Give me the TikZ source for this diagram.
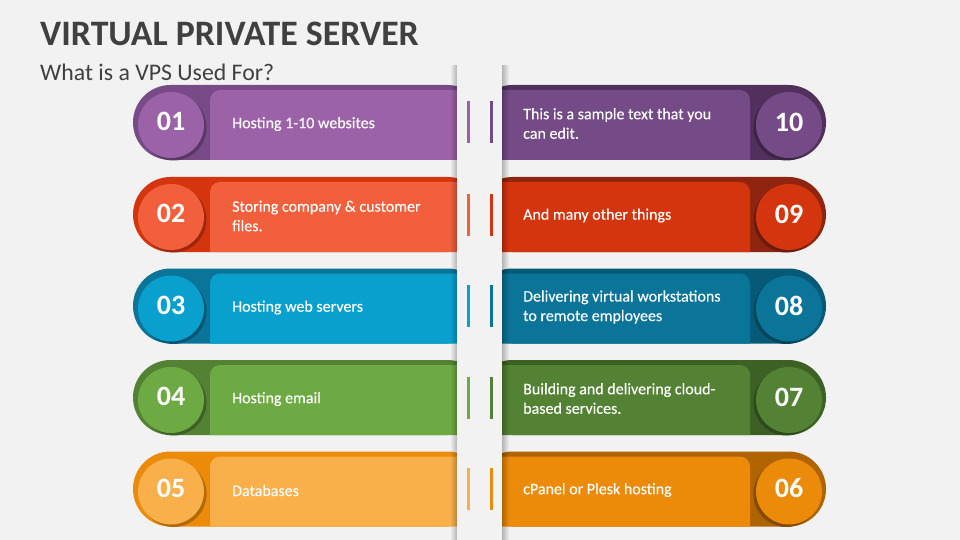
\documentclass[tikz,border=0pt]{standalone}
\usepackage{fontspec}
\setmainfont{Carlito}
\newfontfamily\itemfont[FakeBold=0.25]{Carlito}
\usetikzlibrary{fadings}
\definecolor{bg}{HTML}{F2F2F2}
\definecolor{titlegray}{HTML}{404040}
\definecolor{aLi}{HTML}{9B62A7}\definecolor{aLo}{HTML}{784A88}\definecolor{aRi}{HTML}{744B87}\definecolor{aRo}{HTML}{51305C}
\definecolor{bLi}{HTML}{F15F3D}\definecolor{bLo}{HTML}{D4340E}\definecolor{bRi}{HTML}{D4340E}\definecolor{bRo}{HTML}{8F2510}
\definecolor{cLi}{HTML}{0AA0CE}\definecolor{cLo}{HTML}{0A7499}\definecolor{cRi}{HTML}{0A7499}\definecolor{cRo}{HTML}{065A78}
\definecolor{dLi}{HTML}{6DAA43}\definecolor{dLo}{HTML}{548235}\definecolor{dRi}{HTML}{548235}\definecolor{dRo}{HTML}{3D6125}
\definecolor{eLi}{HTML}{F9AF4A}\definecolor{eLo}{HTML}{EC8A0A}\definecolor{eRi}{HTML}{EC8A0A}\definecolor{eRo}{HTML}{B06400}
\newcommand\vpsrow[6]{%
  % #1 top y, #2 color prefix, #3 left number, #4 left text, #5 right number, #6 right text
  \fill[#2Lo, rounded corners=37.5pt] (133,#1) rectangle (485,#1+75);
  \fill[#2Li] (485,#1+75) -- (210,#1+75) [rounded corners=10pt] -- (210,#1+5) [sharp corners] -- (485,#1+5) -- cycle;
  \fill[#2Lo!75!black] (173.5,#1+42.5) circle (33);
  \node[numcirc, fill=#2Li] (#2lc) at (171,#1+40) {};
  \node[numtext] (#2ln) at (171,#1+36.5) {#3};
  \node[itemtext] (#2lt) at (232,#1+39) {#4};
  \fill[#2Ro, rounded corners=37.5pt] (475,#1) rectangle (826,#1+75);
  \fill[#2Ri] (475,#1+5) [rounded corners=10pt] -- (750,#1+5) [sharp corners] -- (750,#1+75) -- (475,#1+75) -- cycle;
  \fill[#2Ro!75!black] (786.5,#1+42.5) circle (33);
  \node[numcirc, fill=#2Ri] (#2rc) at (789,#1+40) {};
  \node[numtext] (#2rn) at (789,#1+37) {#5};
  \node[itemtext] (#2rt) at (523,#1+38.5) {#6};
}
\newcommand\vpsmarks[2]{%
  \draw[#2Li, line width=3pt] (468,#1+16.5) -- (468,#1+58.5);
  \draw[#2Ri, line width=3pt] (491,#1+16.5) -- (491,#1+58.5);
}
\begin{document}
\begin{tikzpicture}[x=1pt,y=-1pt,
  numcirc/.style={circle, inner sep=0pt, minimum size=66pt},
  numtext/.style={inner sep=0pt, text=white, font=\fontsize{28}{28}\selectfont\bfseries},
  itemtext/.style={anchor=west, inner sep=0pt, text=white, align=left, font=\fontsize{16}{19.5}\selectfont\itemfont}]
\useasboundingbox (0,0) rectangle (960,540);
\fill[bg] (0,0) rectangle (960,540);
\node[anchor=base west, inner sep=0pt, text=titlegray, font=\fontsize{35.8}{36}\selectfont\bfseries] (title) at (40,46) {VIRTUAL PRIVATE SERVER};
\node[anchor=base west, inner sep=0pt, text=titlegray, font=\fontsize{23.8}{24}\selectfont] (subtitle) at (40,81) {What is a VPS Used For?};
\vpsrow{85}{a}{01}{Hosting 1-10 websites}{10}{This is a sample text that you\\can edit.}
\vpsrow{177}{b}{02}{Storing company \& customer\\files.}{09}{And many other things}
\vpsrow{268.5}{c}{03}{Hosting web servers}{08}{Delivering virtual workstations\\to remote employees}
\vpsrow{360}{d}{04}{Hosting email}{07}{Building and delivering cloud-\\based services.}
\vpsrow{451.5}{e}{05}{Databases}{06}{cPanel or Plesk hosting}
% center strip
\fill[black, fill opacity=0.25, path fading=west] (450,65) rectangle (457,540);
\fill[black, fill opacity=0.25, path fading=east] (502,65) rectangle (509,540);
\fill[bg] (457,65) rectangle (502,540);
\vpsmarks{85}{a}
\vpsmarks{177}{b}
\vpsmarks{268.5}{c}
\vpsmarks{360}{d}
\vpsmarks{451.5}{e}
\end{tikzpicture}
\end{document}
